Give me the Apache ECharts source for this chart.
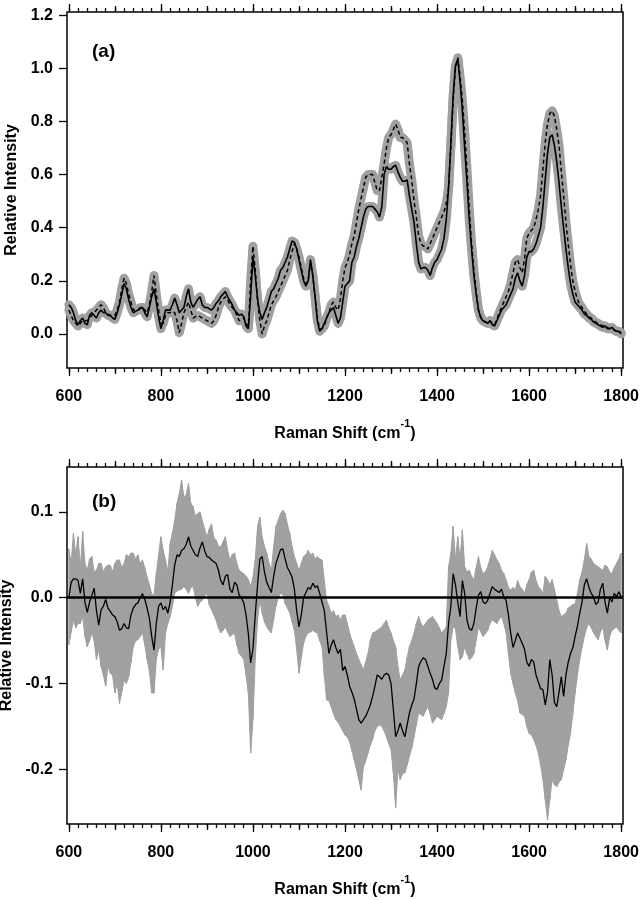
<!DOCTYPE html>
<html><head><meta charset="utf-8">
<script src="https://cdn.jsdelivr.net/npm/echarts@6/dist/echarts.min.js"></script>
<style>html,body{margin:0;padding:0;background:#fff}#c{width:641px;height:900px}</style>
</head><body><div id="c"></div><script>
// Raman shift sampling (cm-1)
const wavenumber = [
600,605,610,615,620,625,630,635,640,645,650,655,660,665,670,675,680,685,690,695,
700,705,710,715,720,725,730,735,740,745,750,755,760,765,770,775,780,785,790,795,
800,805,810,815,820,825,830,835,840,845,850,855,860,865,870,875,880,885,890,895,
900,905,910,915,920,925,930,935,940,945,950,955,960,965,970,975,980,985,990,995,
1000,1005,1010,1015,1020,1025,1030,1035,1040,1045,1050,1055,1060,1065,1070,1075,1080,1085,1090,1095,
1100,1105,1110,1115,1120,1125,1130,1135,1140,1145,1150,1155,1160,1165,1170,1175,1180,1185,1190,1195,
1200,1205,1210,1215,1220,1225,1230,1235,1240,1245,1250,1255,1260,1265,1270,1275,1280,1285,1290,1295,
1300,1305,1310,1315,1320,1325,1330,1335,1340,1345,1350,1355,1360,1365,1370,1375,1380,1385,1390,1395,
1400,1405,1410,1415,1420,1425,1430,1435,1440,1445,1450,1455,1460,1465,1470,1475,1480,1485,1490,1495,
1500,1505,1510,1515,1520,1525,1530,1535,1540,1545,1550,1555,1560,1565,1570,1575,1580,1585,1590,1595,
1600,1605,1610,1615,1620,1625,1630,1635,1640,1645,1650,1655,1660,1665,1670,1675,1680,1685,1690,1695,
1700,1705,1710,1715,1720,1725,1730,1735,1740,1745,1750,1755,1760,1765,1770,1775,1780,1785,1790,1795,
1800];

// Panel (a): solid spectrum
const solidA = [
0.11,0.10,0.08,0.05,0.035,0.05,0.06,0.04,0.035,0.07,0.08,0.07,0.06,0.08,0.09,0.08,0.08,0.07,0.07,0.06,
0.055,0.08,0.11,0.15,0.19,0.17,0.13,0.10,0.08,0.085,0.09,0.10,0.10,0.08,0.065,0.10,0.14,0.17,0.12,0.065,
0.02,0.05,0.09,0.09,0.09,0.11,0.135,0.11,0.08,0.09,0.10,0.14,0.17,0.12,0.10,0.115,0.13,0.14,0.11,0.10,
0.10,0.095,0.09,0.10,0.115,0.125,0.14,0.15,0.16,0.14,0.125,0.11,0.09,0.08,0.07,0.075,0.065,0.03,0.02,0.14,
0.29,0.22,0.13,0.08,0.055,0.08,0.10,0.13,0.16,0.17,0.19,0.21,0.24,0.25,0.27,0.29,0.32,0.35,0.345,0.32,
0.28,0.24,0.20,0.18,0.20,0.28,0.22,0.14,0.05,0.01,0.02,0.04,0.06,0.08,0.09,0.10,0.07,0.04,0.06,0.12,
0.18,0.19,0.20,0.27,0.29,0.33,0.36,0.40,0.44,0.47,0.48,0.48,0.48,0.47,0.46,0.44,0.48,0.60,0.63,0.62,
0.62,0.63,0.635,0.61,0.59,0.575,0.575,0.58,0.52,0.47,0.42,0.34,0.27,0.245,0.25,0.25,0.24,0.22,0.25,0.27,
0.28,0.30,0.32,0.36,0.43,0.55,0.72,0.90,1.01,1.035,0.95,0.84,0.70,0.57,0.43,0.32,0.22,0.15,0.09,0.06,
0.05,0.045,0.04,0.05,0.035,0.03,0.05,0.07,0.09,0.10,0.11,0.13,0.15,0.17,0.21,0.23,0.20,0.18,0.22,0.29,
0.31,0.31,0.32,0.34,0.37,0.40,0.48,0.58,0.68,0.74,0.75,0.71,0.65,0.57,0.48,0.40,0.32,0.25,0.19,0.15,
0.12,0.11,0.10,0.09,0.075,0.07,0.06,0.055,0.045,0.04,0.035,0.03,0.025,0.03,0.02,0.02,0.025,0.015,0.01,0.01,
0.0];

// Panel (a): dashed spectrum
const dashedA = [
0.09,0.07,0.05,0.04,0.03,0.04,0.05,0.05,0.05,0.06,0.07,0.08,0.09,0.10,0.11,0.10,0.08,0.075,0.07,0.07,
0.07,0.09,0.12,0.17,0.21,0.19,0.15,0.12,0.09,0.09,0.09,0.095,0.10,0.09,0.08,0.11,0.16,0.22,0.15,0.09,
0.04,0.04,0.07,0.08,0.08,0.085,0.08,0.05,0.005,0.04,0.08,0.10,0.12,0.09,0.06,0.065,0.07,0.065,0.06,0.055,
0.05,0.045,0.04,0.05,0.07,0.10,0.12,0.13,0.14,0.13,0.11,0.10,0.09,0.07,0.05,0.055,0.06,0.04,0.03,0.20,
0.33,0.24,0.13,0.05,0.0,0.03,0.05,0.08,0.11,0.125,0.14,0.16,0.18,0.20,0.22,0.24,0.28,0.31,0.34,0.32,
0.29,0.25,0.21,0.19,0.20,0.27,0.22,0.14,0.06,0.02,0.02,0.03,0.06,0.08,0.11,0.12,0.10,0.09,0.13,0.20,
0.25,0.27,0.30,0.34,0.37,0.42,0.47,0.51,0.55,0.59,0.60,0.60,0.60,0.57,0.54,0.54,0.59,0.64,0.70,0.74,
0.75,0.77,0.79,0.77,0.74,0.74,0.73,0.72,0.64,0.58,0.50,0.44,0.37,0.34,0.33,0.33,0.32,0.34,0.36,0.38,
0.40,0.42,0.44,0.46,0.49,0.55,0.70,0.88,1.00,1.04,0.97,0.88,0.76,0.62,0.47,0.34,0.24,0.16,0.09,0.065,
0.05,0.045,0.045,0.05,0.04,0.035,0.055,0.08,0.10,0.12,0.14,0.16,0.19,0.23,0.27,0.28,0.25,0.23,0.28,0.36,
0.38,0.39,0.40,0.43,0.47,0.52,0.62,0.72,0.79,0.83,0.84,0.82,0.77,0.71,0.61,0.52,0.42,0.34,0.26,0.20,
0.16,0.13,0.11,0.10,0.085,0.075,0.065,0.06,0.05,0.045,0.04,0.035,0.03,0.03,0.025,0.02,0.02,0.015,0.01,0.01,
0.005];

// Panel (b): mean difference
const meanB = [
0.0,0.018,0.022,0.022,0.02,0.005,0.022,-0.005,-0.017,-0.005,0.003,0.011,-0.015,-0.032,-0.014,-0.01,-0.002,-0.012,-0.016,-0.02,
-0.022,-0.028,-0.038,-0.036,-0.03,-0.035,-0.036,-0.02,-0.012,-0.008,-0.006,0.0,0.005,-0.002,-0.012,-0.024,-0.045,-0.061,-0.03,-0.01,
-0.006,-0.014,-0.01,-0.018,-0.005,0.015,0.038,0.05,0.048,0.055,0.057,0.062,0.071,0.06,0.055,0.05,0.048,0.058,0.065,0.055,
0.048,0.047,0.044,0.042,0.04,0.032,0.02,0.015,0.025,0.027,0.01,0.006,0.018,0.015,0.003,0.0,-0.006,-0.02,-0.042,-0.076,
-0.06,-0.02,0.015,0.045,0.048,0.03,0.018,0.012,0.006,0.025,0.04,0.048,0.056,0.057,0.045,0.035,0.03,0.024,0.01,-0.015,
-0.034,-0.02,0.0,0.006,0.012,0.01,0.017,0.012,0.014,0.005,-0.005,-0.015,-0.04,-0.065,-0.055,-0.049,-0.058,-0.065,-0.06,-0.085,
-0.08,-0.09,-0.103,-0.11,-0.118,-0.13,-0.142,-0.146,-0.142,-0.138,-0.132,-0.125,-0.115,-0.103,-0.09,-0.092,-0.095,-0.09,-0.088,-0.09,
-0.1,-0.13,-0.162,-0.155,-0.146,-0.155,-0.162,-0.148,-0.134,-0.125,-0.118,-0.1,-0.08,-0.074,-0.07,-0.072,-0.08,-0.088,-0.095,-0.105,
-0.107,-0.1,-0.096,-0.08,-0.065,-0.03,-0.01,0.028,0.015,-0.005,-0.022,0.02,0.005,-0.026,-0.036,-0.038,-0.03,-0.012,0.003,0.007,
-0.005,-0.007,-0.003,0.005,0.013,0.01,0.008,0.006,0.01,0.001,-0.003,-0.02,-0.041,-0.058,-0.05,-0.041,-0.047,-0.053,-0.06,-0.075,
-0.08,-0.072,-0.075,-0.09,-0.098,-0.106,-0.107,-0.125,-0.11,-0.072,-0.09,-0.122,-0.127,-0.11,-0.092,-0.115,-0.09,-0.075,-0.065,-0.058,
-0.045,-0.033,-0.018,-0.005,0.015,0.022,0.012,0.005,0.001,-0.008,-0.005,0.01,0.017,-0.005,-0.018,0.0,-0.005,0.005,0.001,0.007,
0.001];

// Panel (b): upper edge of grey band
const upperB = [
0.057,0.04,0.075,0.05,0.071,0.035,0.077,0.04,0.032,0.045,0.048,0.03,0.032,0.04,0.04,0.03,0.036,0.038,0.038,0.03,
0.04,0.044,0.044,0.035,0.04,0.05,0.048,0.052,0.052,0.045,0.05,0.04,0.044,0.035,0.024,0.015,0.005,0.002,0.028,0.05,
0.071,0.055,0.044,0.03,0.063,0.075,0.09,0.11,0.121,0.137,0.117,0.12,0.133,0.11,0.106,0.095,0.098,0.1,0.09,0.08,
0.071,0.08,0.086,0.07,0.067,0.06,0.059,0.065,0.071,0.055,0.044,0.05,0.052,0.04,0.032,0.03,0.028,0.025,0.021,0.013,
0.024,0.044,0.083,0.094,0.071,0.06,0.052,0.04,0.032,0.06,0.083,0.09,0.098,0.102,0.098,0.085,0.075,0.06,0.048,0.04,
0.032,0.04,0.048,0.05,0.055,0.05,0.052,0.045,0.048,0.045,0.044,0.02,-0.003,-0.01,-0.018,-0.015,-0.022,-0.02,-0.026,-0.02,
-0.02,-0.03,-0.041,-0.05,-0.057,-0.065,-0.072,-0.078,-0.084,-0.075,-0.065,-0.05,-0.041,-0.04,-0.038,-0.036,-0.034,-0.03,-0.026,-0.035,
-0.041,-0.05,-0.057,-0.08,-0.096,-0.09,-0.084,-0.07,-0.057,-0.05,-0.041,-0.03,-0.022,-0.03,-0.034,-0.03,-0.026,-0.024,-0.022,-0.026,
-0.03,-0.035,-0.041,-0.038,-0.034,0.036,0.052,0.083,0.044,0.071,0.044,0.079,0.036,0.03,0.032,0.025,0.021,0.035,0.048,0.035,
0.028,0.03,0.036,0.045,0.055,0.05,0.044,0.04,0.032,0.028,0.021,0.012,0.009,0.012,0.009,0.02,0.013,0.01,0.005,0.015,
0.021,0.03,0.032,0.02,0.013,0.01,0.005,0.025,0.021,0.015,0.021,0.01,-0.003,-0.015,-0.022,-0.02,-0.018,-0.012,-0.01,-0.008,
-0.007,0.005,0.021,0.03,0.044,0.063,0.048,0.045,0.04,0.038,0.036,0.034,0.032,0.038,0.036,0.03,0.028,0.035,0.04,0.045,
0.052];

// Panel (b): lower edge of grey band
const lowerB = [
-0.055,-0.04,-0.026,-0.035,-0.03,-0.03,-0.022,-0.045,-0.057,-0.05,-0.041,-0.05,-0.072,-0.06,-0.08,-0.09,-0.103,-0.08,-0.088,-0.09,
-0.111,-0.1,-0.123,-0.11,-0.096,-0.1,-0.092,-0.075,-0.057,-0.05,-0.049,-0.045,-0.041,-0.055,-0.072,-0.085,-0.111,-0.111,-0.072,-0.06,
-0.057,-0.084,-0.041,-0.03,-0.022,-0.01,0.005,0.008,0.009,0.01,0.013,0.01,0.005,0.012,0.013,0.0,-0.01,-0.005,-0.003,0.002,
0.005,-0.008,-0.014,-0.02,-0.026,-0.035,-0.041,-0.038,-0.034,-0.04,-0.045,-0.043,-0.041,-0.055,-0.065,-0.068,-0.072,-0.09,-0.111,-0.181,
-0.142,-0.072,-0.026,-0.003,-0.018,-0.028,-0.034,-0.038,-0.041,-0.025,-0.01,0.0,0.005,0.004,-0.007,-0.012,-0.018,-0.028,-0.038,-0.06,
-0.088,-0.07,-0.053,-0.045,-0.041,-0.04,-0.038,-0.04,-0.041,-0.05,-0.057,-0.09,-0.119,-0.12,-0.127,-0.135,-0.142,-0.145,-0.15,-0.155,
-0.16,-0.162,-0.168,-0.178,-0.189,-0.2,-0.212,-0.224,-0.197,-0.19,-0.181,-0.172,-0.165,-0.155,-0.15,-0.148,-0.15,-0.155,-0.162,-0.17,
-0.177,-0.204,-0.245,-0.2,-0.212,-0.205,-0.204,-0.195,-0.185,-0.175,-0.162,-0.148,-0.134,-0.136,-0.138,-0.132,-0.127,-0.135,-0.146,-0.142,
-0.138,-0.14,-0.142,-0.135,-0.127,-0.111,-0.049,-0.034,-0.036,-0.057,-0.072,-0.069,-0.057,-0.065,-0.072,-0.07,-0.065,-0.05,-0.034,-0.04,
-0.045,-0.042,-0.038,-0.03,-0.026,-0.028,-0.03,-0.025,-0.022,-0.03,-0.041,-0.065,-0.088,-0.1,-0.111,-0.12,-0.134,-0.136,-0.138,-0.15,
-0.158,-0.16,-0.165,-0.172,-0.181,-0.195,-0.212,-0.235,-0.259,-0.235,-0.212,-0.218,-0.22,-0.215,-0.212,-0.2,-0.189,-0.172,-0.158,-0.135,
-0.111,-0.09,-0.072,-0.058,-0.045,-0.035,-0.03,-0.035,-0.041,-0.045,-0.049,-0.04,-0.034,-0.05,-0.061,-0.045,-0.038,-0.036,-0.034,-0.038,
-0.041];

// Tick positions / labels
const xMajorTicks = [600,800,1000,1200,1400,1600,1800];
const xMediumTicks = [700,900,1100,1300,1500,1700];
const xMinorTicks = [600,620,640,660,680,700,720,740,760,780,800,820,840,860,880,900,920,940,960,980,
1000,1020,1040,1060,1080,1100,1120,1140,1160,1180,1200,1220,1240,1260,1280,1300,1320,1340,1360,1380,
1400,1420,1440,1460,1480,1500,1520,1540,1560,1580,1600,1620,1640,1660,1680,1700,1720,1740,1760,1780,1800];
const yTicksA = [0.0,0.2,0.4,0.6,0.8,1.0,1.2];
const yTicksB = [-0.2,-0.1,0.0,0.1];
const panelLabels = ['(a)','(b)'];
const yAxisTitle = 'Relative Intensity';

const FONT = '"Liberation Sans", Arial, Helvetica, sans-serif';
const GREY = '#a0a0a0';
const pairs = (xs, ys) => xs.map((x, i) => [x, ys[i]]);

function makeXAxes(gi) {
  const specs = [
    {pos:'bottom', vals:xMajorTicks, len:8, label:true, name:true},
    {pos:'bottom', vals:xMediumTicks, len:6},
    {pos:'bottom', vals:xMinorTicks, len:4},
    {pos:'top', vals:xMajorTicks, len:8},
    {pos:'top', vals:xMediumTicks, len:6},
    {pos:'top', vals:xMinorTicks, len:4}
  ];
  return specs.map(s => ({
    type:'value', gridIndex:gi, position:s.pos, min:596, max:1804,
    axisLine:{show:false, onZero:false},
    splitLine:{show:false},
    axisTick:{show:true, customValues:s.vals, length:s.len, inside:false, lineStyle:{color:'#000', width:1.3}},
    axisLabel:{show:!!s.label, customValues:xMajorTicks, margin:21, color:'#000', fontSize:16, fontWeight:'bold', fontFamily:FONT,
      formatter:v => String(v)},
    name: s.name ? '{n|Raman Shift (cm}{s|-1}{n|)}' : '',
    nameLocation:'middle', nameGap:50,
    nameTextStyle:{rich:{
      n:{fontSize:16, fontWeight:'bold', fontFamily:FONT, color:'#000', lineHeight:24, verticalAlign:'bottom'},
      s:{fontSize:11, fontWeight:'bold', fontFamily:FONT, color:'#000', lineHeight:12, verticalAlign:'top'}
    }}
  }));
}

function makeYAxis(gi, min, max, ticks) {
  return {
    type:'value', gridIndex:gi, position:'left', min:min, max:max,
    axisLine:{show:false},
    splitLine:{show:false},
    axisTick:{show:true, customValues:ticks, length:8, lineStyle:{color:'#000', width:1.3}},
    axisLabel:{customValues:ticks, margin:14, color:'#000', fontSize:16, fontWeight:'bold', fontFamily:FONT,
      formatter:v => v.toFixed(1)},
    name:yAxisTitle, nameLocation:'middle', nameGap:46,
    nameTextStyle:{fontSize:16, fontWeight:'bold', fontFamily:FONT, color:'#000'}
  };
}

const chart = echarts.init(document.getElementById('c'), null, {renderer:'canvas'});
const bandData = wavenumber.map((x, i) => [x, lowerB[i], upperB[i]]);

function renderBand(params, api) {
  const i = params.dataIndexInside;
  if (i >= params.dataInsideLength - 1) return null;
  const x0 = api.value(0), lo0 = api.value(1), hi0 = api.value(2);
  const x1 = api.value(0, i + 1), lo1 = api.value(1, i + 1), hi1 = api.value(2, i + 1);
  const pts = [api.coord([x0, hi0]), api.coord([x1, hi1]), api.coord([x1, lo1]), api.coord([x0, lo0])];
  return {type:'polygon', shape:{points:pts}, style:{fill:GREY, stroke:GREY, lineWidth:1}};
}

const gridBase = {width:556, show:true, borderColor:'#000', borderWidth:1.5, containLabel:false, outerBoundsMode:'none'};

chart.setOption({
  animation:false,
  backgroundColor:'#fff',
  title:[
    {text:panelLabels[0], left:92, top:42, padding:0, textStyle:{fontSize:19, fontWeight:'bold', fontFamily:FONT, color:'#000'}},
    {text:panelLabels[1], left:92, top:492, padding:0, textStyle:{fontSize:19, fontWeight:'bold', fontFamily:FONT, color:'#000'}}
  ],
  grid:[
    Object.assign({left:67, top:12, height:356}, gridBase),
    Object.assign({left:67, top:467, height:357}, gridBase)
  ],
  xAxis:[...makeXAxes(0), ...makeXAxes(1)],
  yAxis:[makeYAxis(0, -0.128, 1.212, yTicksA), makeYAxis(1, -0.2636, 0.1523, yTicksB)],
  series:[
    {type:'line', xAxisIndex:0, yAxisIndex:0, data:pairs(wavenumber, dashedA), showSymbol:false, silent:true,
      lineStyle:{color:GREY, width:9, cap:'round', join:'round'}},
    {type:'line', xAxisIndex:0, yAxisIndex:0, data:pairs(wavenumber, solidA), showSymbol:false, silent:true,
      lineStyle:{color:GREY, width:9, cap:'round', join:'round'}},
    {type:'line', xAxisIndex:0, yAxisIndex:0, data:pairs(wavenumber, dashedA), showSymbol:false, silent:true,
      lineStyle:{color:'#000', width:1.5, type:[4,3]}},
    {type:'line', xAxisIndex:0, yAxisIndex:0, data:pairs(wavenumber, solidA), showSymbol:false, silent:true,
      lineStyle:{color:'#000', width:1.6}},
    {type:'custom', xAxisIndex:6, yAxisIndex:1, data:bandData, encode:{x:0, y:[1,2]}, renderItem:renderBand,
      silent:true, clip:true},
    {type:'line', xAxisIndex:6, yAxisIndex:1, data:pairs(wavenumber, meanB), showSymbol:false, silent:true,
      lineStyle:{color:'#000', width:1.3},
      markLine:{silent:true, symbol:'none', label:{show:false}, lineStyle:{color:'#000', width:2.5, type:'solid'},
        data:[{yAxis:0}]}}
  ]
});
</script></body></html>
